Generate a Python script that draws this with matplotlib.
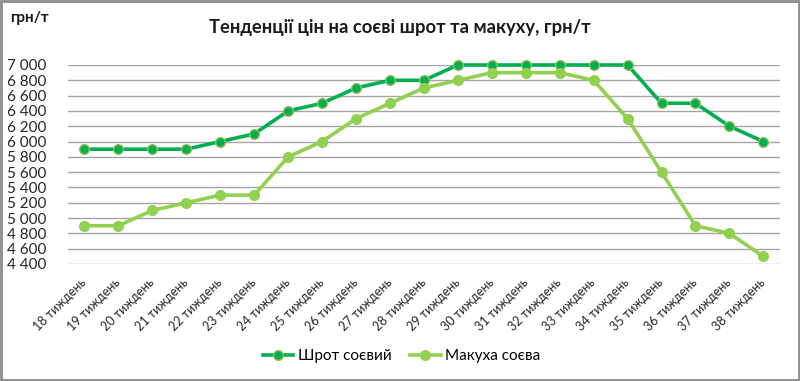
import matplotlib
matplotlib.use("Agg")
import matplotlib.pyplot as plt
from matplotlib.patches import Rectangle
import numpy as np

plt.rcParams['font.family'] = ['Lato', 'Open Sans', 'DejaVu Sans']

weeks = [f"{w} тиждень" for w in range(18, 39)]
shrot = [5900, 5900, 5900, 5900, 6000, 6100, 6400, 6500, 6700, 6800, 6800,
         7000, 7000, 7000, 7000, 7000, 7000, 6500, 6500, 6200, 6000]
makukha = [4900, 4900, 5100, 5200, 5300, 5300, 5800, 6000, 6300, 6500, 6700,
           6800, 6900, 6900, 6900, 6800, 6300, 5600, 4900, 4800, 4500]
yticks = list(range(4400, 7001, 200))
series_names = ["Шрот соєвий", "Макуха соєва"]
line_colors = ["#00B050", "#92D050"]
marker_faces = ["#00B050", "#92D050"]
marker_edges = ["#9BBB59", "#92D050"]

fig = plt.figure(figsize=(8, 3.81), dpi=100)
ax = fig.add_axes([0.0844, 0.3071, 0.891, 0.5223])
x = np.arange(len(weeks))

for vals, name, lc, mf, me in zip([shrot, makukha], series_names, line_colors, marker_faces, marker_edges):
    ax.plot(x, vals, color=lc, lw=2.6, marker='o', markersize=7, markerfacecolor=mf,
            markeredgecolor=me, markeredgewidth=1.0, zorder=3, clip_on=False, label=name,
            solid_joinstyle='round')

ax.set_xlim(-0.5, len(weeks) - 0.5)
ax.set_ylim(4400, 7000)
ax.set_yticks(yticks)
ax.set_yticklabels([f"{v:,}".replace(",", " ") for v in yticks], fontsize=11, color="#262626")
ax.set_xticks(x)
ax.set_xticklabels(weeks, rotation=45, ha='right', va='center', rotation_mode='anchor',
                   fontsize=9, color="#262626")
ax.tick_params(axis='both', length=0)
ax.tick_params(axis='x', pad=12)
ax.tick_params(axis='y', pad=15)
for s in ax.spines.values():
    s.set_visible(False)
ax.yaxis.grid(True, color="#A6A6A6", lw=1.0)
ax.set_axisbelow(True)

fig.text(0.5, 0.928, "Тенденції цін на соєві шрот та макуху, грн/т", ha='center', va='center',
         fontsize=13.2, fontweight='bold', color="#1a1a1a")
fig.text(0.013, 0.952, "грн/т", ha='left', va='center', fontsize=11, fontweight='bold',
         color="#1a1a1a")

fig.legend(loc='center', bbox_to_anchor=(0.502, 0.066), ncol=2, frameon=False,
           fontsize=11, handlelength=2.0, columnspacing=1.2, handletextpad=0.3)

fig.patches.append(Rectangle((0.0015, 0.003), 0.997, 0.994, transform=fig.transFigure,
                             fill=False, edgecolor="#8C8C8C", lw=2))

fig.savefig("out.png", dpi=100)
